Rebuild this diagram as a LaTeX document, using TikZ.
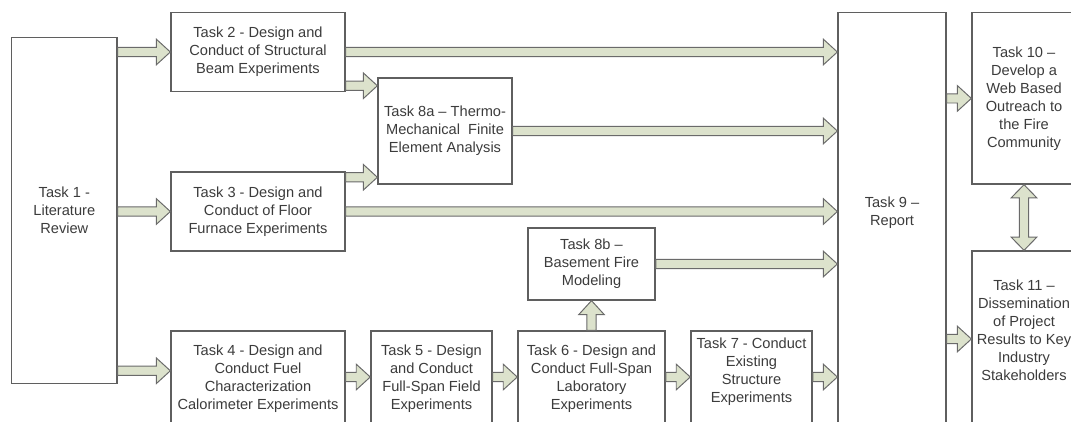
\documentclass[tikz,border=0pt]{standalone}
\usepackage{fontspec}
\setmainfont{Liberation Sans}
\usetikzlibrary{calc}
\definecolor{boxgray}{HTML}{5F5F5F}
\definecolor{txtgray}{HTML}{3C3C3C}
\definecolor{arrgray}{HTML}{6A6A6A}
\definecolor{arrfill}{HTML}{DCE2CC}
\newcommand{\taskfont}{\fontsize{10.4}{12.8}\selectfont}
\tikzset{
  task/.style={draw=boxgray, line width=0.9pt, fill=white, text=txtgray, align=center, inner sep=2pt, font=\taskfont},
  fat/.style={draw=arrgray, fill=arrfill, line width=0.7pt, line join=miter}
}
\def\fatarrow(#1)(#2){\path (#1) coordinate (fs) (#2) coordinate (fe);
  \path ($(fe)!0.35cm!(fs)$) coordinate (fb);
  \filldraw[fat] ($(fs)!0.115cm!90:(fe)$) -- ($(fb)!0.115cm!90:(fe)$) -- ($(fb)!0.32cm!90:(fe)$) -- (fe)
    -- ($(fb)!0.32cm!-90:(fe)$) -- ($(fb)!0.115cm!-90:(fe)$) -- ($(fs)!0.115cm!-90:(fe)$) -- cycle;}
\def\fatdarrow(#1)(#2){\path (#1) coordinate (fs) (#2) coordinate (fe);
  \path ($(fs)!0.33cm!(fe)$) coordinate (fa) ($(fe)!0.33cm!(fs)$) coordinate (fb);
  \filldraw[fat] (fs) -- ($(fa)!0.32cm!90:(fe)$) -- ($(fa)!0.115cm!90:(fe)$) -- ($(fb)!0.115cm!90:(fe)$) -- ($(fb)!0.32cm!90:(fe)$) -- (fe)
    -- ($(fb)!0.32cm!-90:(fe)$) -- ($(fb)!0.115cm!-90:(fe)$) -- ($(fa)!0.115cm!-90:(fe)$) -- ($(fa)!0.32cm!-90:(fe)$) -- cycle;}

\begin{document}
\begin{tikzpicture}[x=0.025cm, y=-0.025cm]
	%%%%% FRAME %%%%%
	\useasboundingbox (0,0) rectangle (1071,421);
	\clip (0,0) rectangle (1071,421);
	
	%%%%% TASKS %%%%%
	\node[task, minimum width=2.63cm, minimum height=8.63cm] (t1) at (64.3,210.5) {Task 1 -\\Literature\\Review};
	
	\node[task, minimum width=4.35cm, minimum height=1.98cm] (t2) at (258,52) {Task 2 - Design and\\Conduct of Structural\\Beam Experiments};
	\node[task, minimum width=4.35cm, minimum height=1.98cm] (t3) at (258,211.5) {Task 3 - Design and\\Conduct of Floor\\Furnace Experiments};
	
	\node[task, minimum width=3.35cm, minimum height=2.65cm] (t8a) at (445,131) {Task 8a -- Thermo-\\Mechanical\ \ Finite\\Element Analysis};
	\node[task, minimum width=3.18cm, minimum height=1.8cm] (t8b) at (591.5,264) {Task 8b --\\Basement Fire\\Modeling};
	
	\node[task, minimum width=4.35cm, minimum height=2.4cm] (t4) at (258,379) {Task 4 - Design and\\Conduct Fuel\\Characterization\\Calorimeter Experiments};
	\node[task, minimum width=3.03cm, minimum height=2.4cm] (t5) at (431.5,379) {Task 5 - Design\\and Conduct\\Full-Span Field\\Experiments};
	\node[task, minimum width=3.68cm, minimum height=2.4cm] (t6) at (591.5,379) {Task 6 - Design and\\Conduct Full-Span\\Laboratory\\Experiments};
	\node[task, minimum width=3.03cm, minimum height=2.4cm] (t7) at (751.5,379) {Task 7 - Conduct\\Existing\\Structure\\Experiments\\~};
	
	\node[task, minimum width=2.7cm, minimum height=10.36cm] (t9) at (892,219.9) {Task 9 --\\Report\\~};
	\node[task, minimum width=2.6cm, minimum height=4.28cm] (t10) at (1024,98.4) {Task 10 --\\Develop a\\Web Based\\Outreach to\\the Fire\\Community};
	\node[task, minimum width=2.6cm, minimum height=4.4cm] (t11) at (1024,339) {Task 11 --\\Dissemination\\of Project\\Results to Key\\Industry\\Stakeholders\\~};
	
	\coordinate (a14) at ($(t1.south east)+(0,-13)$);
	\coordinate (a28) at ($(t2.south east)+(0,-6.5)$);
	\coordinate (a38) at ($(t3.north east)+(0,6)$);
	\coordinate (a45) at ($(t4.east)+(0,-2)$);
	
	%%%%% ARROWS %%%%%
	\fatarrow(t1.east |- t2.west)(t2.west)
	\fatarrow(t1.east |- t3.west)(t3.west)
	\fatarrow(a14)(t4.west |- a14)
	
	\fatarrow(t2.east)(t9.west |- t2.east)
	\fatarrow(a28)(t8a.west |- a28)
	\fatarrow(a38)(t8a.west |- a38)
	\fatarrow(t8a.east)(t9.west |- t8a.east)
	\fatarrow(t3.east)(t9.west |- t3.east)
	\fatarrow(t8b.east)(t9.west |- t8b.east)
	\fatarrow(t6.north)(t8b.south)
	
	\fatarrow(a45)(t5.west |- a45)
	\fatarrow(t5.east |- a45)(t6.west |- a45)
	\fatarrow(t6.east |- a45)(t7.west |- a45)
	\fatarrow(t7.east |- a45)(t9.west |- a45)
	
	\fatarrow(t9.east |- t10.west)(t10.west)
	\fatarrow(t9.east |- t11.west)(t11.west)
	\fatdarrow(t10.south)(t11.north)
\end{tikzpicture}
\end{document}
